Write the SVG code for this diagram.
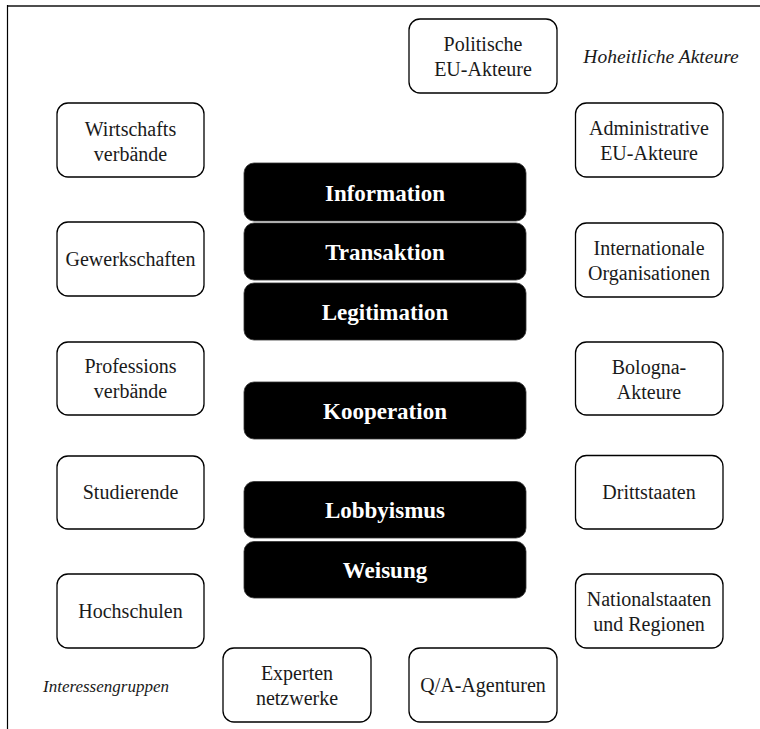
<svg xmlns="http://www.w3.org/2000/svg" width="760" height="729" viewBox="0 0 760 729">
<style>
text{font-family:'Liberation Serif','Times New Roman',serif}
.node rect{fill:#fff;stroke:#000;stroke-width:1.3}
.node text{font-size:20px;fill:#1a1a1a;text-anchor:middle}
.blk rect{fill:#000;stroke:#333;stroke-width:0.8}
.blk text{font-size:23px;font-weight:bold;fill:#fff;text-anchor:middle}
.lbl{font-style:italic;fill:#1a1a1a}
</style>
<rect width="760" height="729" fill="#fff"/>
<g id="frame">
<line x1="7" y1="6" x2="760" y2="6" stroke="#4d4d4d" stroke-width="2"/>
<line x1="7.5" y1="5" x2="7.5" y2="729" stroke="#000" stroke-width="1.2"/>
</g>
<g id="connectors"></g>
<g id="labels" font-family="Liberation Serif">
<text class="lbl" x="661" y="62.5" font-size="19.5" text-anchor="middle">Hoheitliche Akteure</text>
<text class="lbl" x="106" y="692" font-size="17" text-anchor="middle">Interessengruppen</text>
</g>
<g font-family="Liberation Serif">
<g id="politische" class="node"><rect x="409" y="19" width="148" height="74" rx="11"/><text x="483" y="51">Politische</text><text x="483" y="76">EU-Akteure</text></g>
<g id="administrative" class="node"><rect x="575.5" y="103" width="147.5" height="74" rx="11"/><text x="649" y="135">Administrative</text><text x="649" y="160">EU-Akteure</text></g>
<g id="internationale" class="node"><rect x="575.5" y="223" width="147.5" height="74" rx="11"/><text x="649" y="255">Internationale</text><text x="649" y="280">Organisationen</text></g>
<g id="bologna" class="node"><rect x="575.5" y="342" width="147.5" height="73" rx="11"/><text x="649" y="373.5">Bologna-</text><text x="649" y="398.5">Akteure</text></g>
<g id="drittstaaten" class="node"><rect x="575.5" y="455.5" width="147.5" height="73.5" rx="11"/><text x="649" y="499">Drittstaaten</text></g>
<g id="nationalstaaten" class="node"><rect x="575.5" y="574" width="147.5" height="74" rx="11"/><text x="649" y="606">Nationalstaaten</text><text x="649" y="631">und Regionen</text></g>
<g id="qa" class="node"><rect x="409" y="648" width="148" height="74" rx="11"/><text x="483" y="692">Q/A-Agenturen</text></g>
<g id="experten" class="node"><rect x="223" y="648" width="148" height="74" rx="11"/><text x="297" y="680">Experten</text><text x="297" y="705">netzwerke</text></g>
<g id="wirtschaft" class="node"><rect x="57" y="103" width="147" height="74" rx="11"/><text x="130.5" y="136">Wirtschafts</text><text x="130.5" y="161">verbände</text></g>
<g id="gewerkschaften" class="node"><rect x="57" y="222" width="147" height="74" rx="11"/><text x="130.5" y="266">Gewerkschaften</text></g>
<g id="professions" class="node"><rect x="57" y="342" width="147" height="73" rx="11"/><text x="130.5" y="373">Professions</text><text x="130.5" y="398">verbände</text></g>
<g id="studierende" class="node"><rect x="57" y="456" width="147" height="73" rx="11"/><text x="130.5" y="499">Studierende</text></g>
<g id="hochschulen" class="node"><rect x="57" y="574" width="147" height="74" rx="11"/><text x="130.5" y="618">Hochschulen</text></g>
<g id="information" class="blk"><rect x="244" y="163" width="282" height="58" rx="10"/><text x="385" y="201">Information</text></g>
<g id="transaktion" class="blk"><rect x="244" y="223" width="282" height="57" rx="10"/><text x="385" y="260">Transaktion</text></g>
<g id="legitimation" class="blk"><rect x="244" y="283" width="282" height="57" rx="10"/><text x="385" y="320">Legitimation</text></g>
<g id="kooperation" class="blk"><rect x="244" y="382" width="282" height="57" rx="10"/><text x="385" y="419">Kooperation</text></g>
<g id="lobbyismus" class="blk"><rect x="244" y="481.5" width="282" height="56.5" rx="10"/><text x="385" y="518">Lobbyismus</text></g>
<g id="weisung" class="blk"><rect x="244" y="541.5" width="282" height="56.5" rx="10"/><text x="385" y="578">Weisung</text></g>
</g>
</svg>
